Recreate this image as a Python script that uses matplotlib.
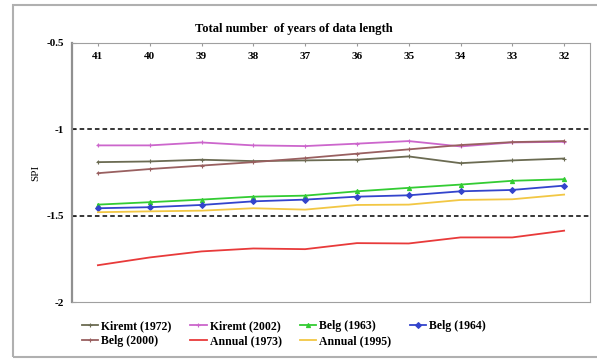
import matplotlib
matplotlib.use("Agg")
import matplotlib.pyplot as plt
from matplotlib.patches import Rectangle

plt.rcParams["font.family"] = ["Liberation Serif", "DejaVu Serif"]
plt.rcParams["font.weight"] = "bold"

years = ["41", "40", "39", "38", "37", "36", "35", "34", "33", "32"]

kiremt_1972 = [-1.19, -1.186, -1.176, -1.184, -1.18, -1.176, -1.157, -1.196, -1.18, -1.169]
kiremt_2002 = [-1.093, -1.093, -1.076, -1.093, -1.097, -1.083, -1.068, -1.099, -1.076, -1.072]
belg_1963 = [-1.436, -1.422, -1.407, -1.39, -1.384, -1.359, -1.339, -1.32, -1.298, -1.289]
belg_1964 = [-1.457, -1.451, -1.438, -1.417, -1.407, -1.39, -1.382, -1.359, -1.351, -1.326]
belg_2000 = [-1.254, -1.23, -1.21, -1.19, -1.167, -1.141, -1.116, -1.091, -1.074, -1.068]
annual_1973 = [-1.787, -1.742, -1.707, -1.69, -1.694, -1.659, -1.661, -1.626, -1.626, -1.587]
annual_1995 = [-1.48, -1.475, -1.471, -1.457, -1.465, -1.438, -1.436, -1.409, -1.405, -1.378]

series = [
    ("Kiremt (1972)", kiremt_1972, "#6b6b52", "+"),
    ("Kiremt (2002)", kiremt_2002, "#cc66cc", "+"),
    ("Belg (1963)", belg_1963, "#33cc33", "^"),
    ("Belg (1964)", belg_1964, "#3344cc", "D"),
    ("Belg (2000)", belg_2000, "#996060", "+"),
    ("Annual (1973)", annual_1973, "#e83a3a", None),
    ("Annual (1995)", annual_1995, "#f2c744", None),
]

fig = plt.figure(figsize=(5.97, 3.63), dpi=100)
fig.patches.append(Rectangle((13 / 597, 1 - 357 / 363), 1.0, 352 / 363,
                             transform=fig.transFigure, fill=False,
                             edgecolor="#b0b0b0", linewidth=1.5))

ax = fig.add_axes([72 / 597, 1 - 302 / 363, 518 / 597, 259 / 363])
x = list(range(len(years)))
handles = []
for label, vals, color, mk in series:
    h, = ax.plot(x, vals, color=color, linewidth=1.3, marker=mk, markersize=3,
                 markeredgewidth=0.8, label=label)
    handles.append(h)

for lvl in (-1.0, -1.5):
    ax.axhline(lvl, color="black", linestyle=(0, (3, 2)), linewidth=1.1)

ax.set_xlim(-0.5, len(years) - 0.5)
ax.set_ylim(-2, -0.5)
ax.set_yticks([-2, -1.5, -1, -0.5])
ax.set_yticklabels(["-2", "-1.5", "-1", "-0.5"], fontsize=8)
ax.xaxis.tick_top()
ax.set_xticks(x)
ax.set_xticklabels(years, fontsize=8)
ax.tick_params(axis="x", direction="in", pad=-13, length=2, color="#999999")
ax.tick_params(axis="y", direction="in", length=3, color="#999999", pad=6)
for sp in ax.spines.values():
    sp.set_color("#a0a0a0")
ax.spines["left"].set_linewidth(1.6)
ax.spines["left"].set_color("#909090")
ax.set_ylabel("SPI", fontsize=8, labelpad=4)

fig.text(294 / 597, 1 - 29 / 363, "Total number  of years of data length",
         ha="center", va="center", fontsize=9)

# legend filled column-wise: reorder so it reads row-wise like the reference
order = [0, 4, 1, 5, 2, 6, 3]
ax.legend([handles[i] for i in order], [series[i][0] for i in order],
          loc="upper left", bbox_to_anchor=(0.01, -0.053), ncol=4, frameon=False,
          fontsize=8.5, handlelength=1.4, handletextpad=0.25, columnspacing=1.55,
          labelspacing=0.25, borderaxespad=0)

fig.savefig("out.png", dpi=100)
